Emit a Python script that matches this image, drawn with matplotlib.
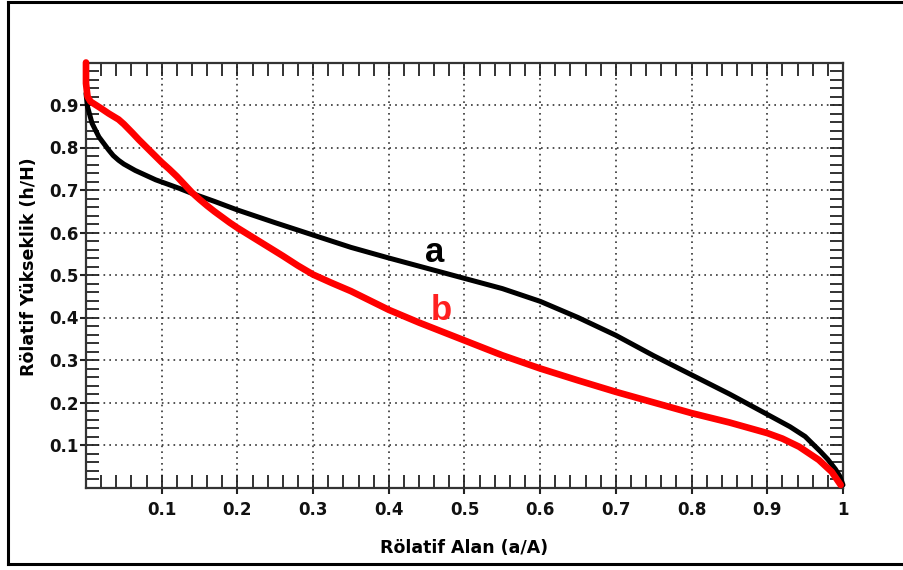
#!/usr/bin/env python3
"""Relative area vs relative height (hypsometric) curves a and b."""

import matplotlib
matplotlib.use("Agg")
import matplotlib.pyplot as plt
from matplotlib.lines import Line2D
from matplotlib.ticker import MultipleLocator, FixedFormatter, FixedLocator

# curve a (black)
a_x = [0.0, 0.002, 0.008, 0.017, 0.03, 0.036, 0.043, 0.05, 0.065, 0.092, 0.123, 0.14, 0.17,
       0.2, 0.25, 0.3, 0.35, 0.4, 0.45, 0.5, 0.55, 0.6, 0.65, 0.7, 0.75, 0.8, 0.85, 0.9,
       0.93, 0.95, 0.97, 0.98, 0.99, 0.996, 1.0]
a_y = [0.927, 0.896, 0.857, 0.825, 0.794, 0.781, 0.77, 0.761, 0.746, 0.724, 0.704, 0.692, 0.673,
       0.653, 0.623, 0.594, 0.565, 0.54, 0.516, 0.492, 0.468, 0.438, 0.4, 0.358, 0.31, 0.265, 0.22,
       0.172, 0.143, 0.12, 0.085, 0.066, 0.043, 0.026, 0.006]

# curve b (red)
b_x = [0.0, 0.0, 0.002, 0.006, 0.013, 0.02, 0.03, 0.043, 0.05, 0.061, 0.07, 0.083, 0.1,
       0.11, 0.12, 0.13, 0.14, 0.15, 0.16, 0.17, 0.18, 0.19, 0.2, 0.22, 0.24, 0.26, 0.28, 0.3,
       0.325, 0.35, 0.375, 0.4, 0.44, 0.48, 0.5, 0.55, 0.6, 0.65, 0.7, 0.75, 0.8, 0.85, 0.9,
       0.92, 0.942, 0.968, 0.985, 0.997]
b_y = [1.0, 0.951, 0.92, 0.908, 0.9, 0.892, 0.88, 0.866, 0.855, 0.835, 0.818, 0.795, 0.765,
       0.749, 0.732, 0.713, 0.694, 0.678, 0.663, 0.649, 0.636, 0.623, 0.611, 0.589, 0.567, 0.545,
       0.522, 0.501, 0.481, 0.462, 0.44, 0.418, 0.388, 0.36, 0.346, 0.311, 0.28, 0.252, 0.225, 0.2,
       0.175, 0.153, 0.128, 0.115, 0.096, 0.065, 0.037, 0.006]

x_ticks = [0.1, 0.2, 0.3, 0.4, 0.5, 0.6, 0.7, 0.8, 0.9, 1.0]
x_ticklabels = ["0.1", "0.2", "0.3", "0.4", "0.5", "0.6", "0.7", "0.8", "0.9", "1"]
y_ticks = [0.1, 0.2, 0.3, 0.4, 0.5, 0.6, 0.7, 0.8, 0.9]
y_ticklabels = ["0.1", "0.2", "0.3", "0.4", "0.5", "0.6", "0.7", "0.8", "0.9"]


def main():
    plt.rcParams["font.family"] = ["DejaVu Sans"]
    fig = plt.figure(figsize=(9.04, 5.70), dpi=100)
    ax = fig.add_axes([86 / 904, 1 - 487.5 / 570, (843 - 86) / 904, (487.5 - 62.5) / 570])

    ax.plot(a_x, a_y, "-", color="black", lw=3.6, solid_joinstyle="round",
            solid_capstyle="round", zorder=3, clip_on=False)
    ax.plot(b_x, b_y, "-", color="#ff0000", lw=4.8, solid_joinstyle="round",
            solid_capstyle="round", zorder=4, clip_on=False)

    ax.text(0.46, 0.531, "a", color="black", fontsize=25, fontweight="bold",
            family="Liberation Sans", ha="center", va="baseline", zorder=5)
    ax.text(0.469, 0.394, "b", color="#ff2020", fontsize=25, fontweight="bold",
            family="Liberation Sans", ha="center", va="baseline", zorder=5)

    ax.set_xlim(0, 1)
    ax.set_ylim(0, 1)

    ax.xaxis.set_major_locator(FixedLocator(x_ticks))
    ax.xaxis.set_major_formatter(FixedFormatter(x_ticklabels))
    ax.yaxis.set_major_locator(FixedLocator(y_ticks))
    ax.yaxis.set_major_formatter(FixedFormatter(y_ticklabels))
    ax.xaxis.set_minor_locator(MultipleLocator(0.02))
    ax.yaxis.set_minor_locator(MultipleLocator(0.02))
    ax.xaxis.remove_overlapping_locs = False
    ax.yaxis.remove_overlapping_locs = False

    ax.tick_params(which="minor", direction="in", length=9.5, width=1.3, color="#222222",
                   top=True, right=True, bottom=True, left=True)
    ax.tick_params(which="major", direction="out", length=4, width=1.5, color="#222222",
                   top=False, right=False)
    ax.tick_params(axis="x", which="major", pad=6)
    ax.tick_params(axis="y", which="major", pad=1)
    for lab in ax.get_xticklabels() + ax.get_yticklabels():
        lab.set_fontsize(12)
        lab.set_fontweight("bold")
        lab.set_color("#111111")

    ax.grid(True, which="major", color="#333333", linestyle=(0, (1, 2.5)), linewidth=1.2)
    for sp in ax.spines.values():
        sp.set_linewidth(1.6)
        sp.set_color("#333333")

    ax.set_xlabel("Rölatif Alan (a/A)", fontsize=12.5, fontweight="bold", labelpad=14)
    ax.set_ylabel("Rölatif Yükseklik (h/H)", fontsize=12.5, fontweight="bold")
    ax.yaxis.set_label_coords(-0.064, 0.52)

    # outer frame (top, left, bottom only)
    fig.add_artist(Line2D([8 / 904, 8 / 904], [1 - 2 / 570, 1 - 564 / 570],
                          transform=fig.transFigure, color="black", lw=2.2))
    fig.add_artist(Line2D([8 / 904, 1.0], [1 - 2 / 570, 1 - 2 / 570],
                          transform=fig.transFigure, color="black", lw=2.2))
    fig.add_artist(Line2D([8 / 904, 1.0], [1 - 564 / 570, 1 - 564 / 570],
                          transform=fig.transFigure, color="black", lw=2.2))

    fig.savefig("out.png", dpi=100)


if __name__ == "__main__":
    main()
